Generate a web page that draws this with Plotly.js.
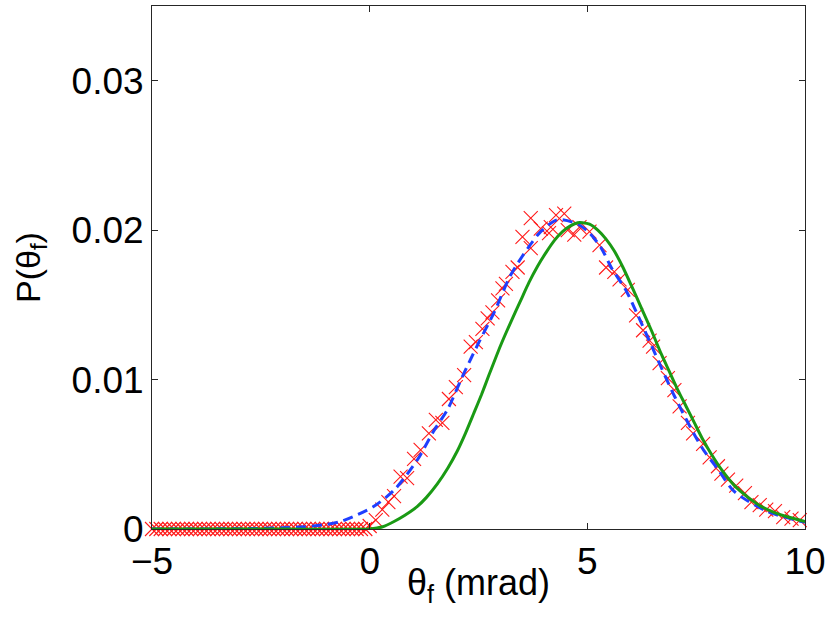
<!DOCTYPE html>
<html>
<head>
<meta charset="utf-8">
<script src="https://cdn.plot.ly/plotly-3.0.1.min.js"></script>
<style>
  body { margin: 0; background: #fff; }
  #plot { width: 830px; height: 623px; }
</style>
</head>
<body>
<div id="plot"></div>
<script>
// measured points (red crosses)
var simX = [-5, -4.9, -4.8, -4.7, -4.6, -4.5, -4.4, -4.3, -4.2, -4.1,
  -4, -3.9, -3.8, -3.7, -3.6, -3.5, -3.4, -3.3, -3.2, -3.1,
  -3, -2.9, -2.8, -2.7, -2.6, -2.5, -2.4, -2.3, -2.2, -2.1,
  -2, -1.9, -1.8, -1.7, -1.6, -1.5, -1.4, -1.3, -1.2, -1.1,
  -1, -0.9, -0.8, -0.7, -0.6, -0.5, -0.4, -0.3, -0.2, -0.1,
  0, 0.14, 0.29, 0.43, 0.56, 0.71, 0.86, 1.02, 1.17, 1.36,
  1.52, 1.67, 1.82, 1.98, 2.17, 2.32, 2.44, 2.59, 2.71, 2.82,
  2.95, 3.05, 3.13, 3.28, 3.40, 3.51, 3.70, 3.70, 3.93, 4.12,
  4.16, 4.28, 4.47, 4.55, 4.70, 4.82, 5.05, 5.28, 5.43, 5.62,
  5.74, 5.93, 6.12, 6.28, 6.43, 6.51, 6.66, 6.85, 7.00, 7.12,
  7.31, 7.43, 7.66, 7.81, 8.00, 8.08, 8.23, 8.42, 8.62, 8.77,
  8.96, 9.11, 9.31, 9.50, 9.69, 9.88, 10.04];
var simY = [0, 0, 0, 0, 0, 0, 0, 0, 0, 0,
  0, 0, 0, 0, 0, 0, 0, 0, 0, 0,
  0, 0, 0, 0, 0, 0, 0, 0, 0, 0,
  0, 0, 0, 0, 0, 0, 0, 0, 0, 0,
  0, 0, 0, 0, 0, 0, 0, 0, 0, 0,
  0.0002, 0.0006, 0.0013, 0.0018, 0.0022, 0.0035, 0.0034, 0.0047, 0.0053, 0.0064,
  0.0073, 0.0071, 0.0087, 0.0095, 0.0103, 0.0122, 0.0125, 0.0134, 0.0141, 0.0145,
  0.0153, 0.0161, 0.0164, 0.0172, 0.0175, 0.01955, 0.0188, 0.0208, 0.0201, 0.0198,
  0.0202, 0.0210, 0.0211, 0.0200, 0.0197, 0.0202, 0.0199, 0.0190, 0.0175, 0.0172,
  0.0167, 0.0160, 0.0143, 0.0133, 0.0126, 0.0122, 0.0111, 0.0101, 0.0093, 0.0082,
  0.0071, 0.0064, 0.0057, 0.0048, 0.0042, 0.0037, 0.0033, 0.0029, 0.0024, 0.0018,
  0.0016, 0.0013, 0.0012, 0.0008, 0.0007, 0.0006, 0.0005];

// blue dashed model
var fitX = [-5, -3, -2, -1.5, -1, -0.67, -0.29, 0.09, 0.56, 1.09,
  1.48, 1.79, 2.13, 2.51, 2.86, 3.24, 3.66, 3.93, 4.32, 4.78,
  5.05, 5.32, 5.55, 5.90, 6.16, 6.5, 7.0, 7.62, 8.0, 8.38,
  9.15, 9.92, 10];
var fitY = [0, 0.00002, 0.00008, 0.00015, 0.0003, 0.0005, 0.00094, 0.0015, 0.0026, 0.0046,
  0.0066, 0.0080, 0.0102, 0.0125, 0.0145, 0.0170, 0.0189, 0.0199, 0.0207, 0.0204,
  0.0198, 0.0188, 0.0175, 0.0159, 0.0143, 0.0121, 0.0089, 0.0055, 0.0040, 0.0025,
  0.00116, 0.0005, 0.00045];

// green solid model
var thX = [-5, -2, 0, 0.3, 0.56, 0.8, 1.09, 1.3, 1.55, 1.8,
  2.01, 2.2, 2.40, 2.57, 2.74, 3.01, 3.25, 3.47, 3.66, 3.86,
  4.05, 4.24, 4.43, 4.62, 4.78, 4.89, 5.05, 5.24, 5.43, 5.62,
  5.82, 6.01, 6.24, 6.47, 6.70, 6.89, 7.08, 7.27, 7.46, 7.65,
  7.85, 8.1, 8.38, 8.7, 9.00, 9.3, 9.61, 10];
var thY = [0, 0, 0, 0.00015, 0.0005, 0.0009, 0.0015, 0.0021, 0.0030, 0.0041,
  0.0052, 0.0064, 0.0078, 0.0090, 0.0103, 0.0123, 0.0139, 0.0153, 0.0165, 0.0176,
  0.0185, 0.0193, 0.0199, 0.0203, 0.0205, 0.0205, 0.0204, 0.0200, 0.0194, 0.0186,
  0.0175, 0.0163, 0.0148, 0.0133, 0.0117, 0.0105, 0.0093, 0.0082, 0.0071, 0.0060,
  0.0050, 0.0039, 0.0029, 0.0021, 0.0015, 0.0011, 0.0008, 0.0005];

var axisCol = '#262626';

var traces = [
  {
    x: simX, y: simY, type: 'scatter', mode: 'markers', cliponaxis: false,
    marker: { symbol: 'x-thin', size: 14, color: '#ff1a1a',
      line: { color: '#ff1a1a', width: 1.1 } },
    showlegend: false
  },
  {
    x: fitX, y: fitY, type: 'scatter', mode: 'lines',
    line: { color: '#1f3fff', width: 3, dash: '10px,6px', shape: 'spline', smoothing: 0.8 },
    showlegend: false
  },
  {
    x: thX, y: thY, type: 'scatter', mode: 'lines',
    line: { color: '#1a9a14', width: 3, shape: 'spline', smoothing: 0.6 },
    showlegend: false
  }
];

var layout = {
  width: 830, height: 623,
  margin: { l: 152, r: 25, t: 6, b: 94 },
  paper_bgcolor: '#fff', plot_bgcolor: '#fff',
  font: { family: 'Liberation Sans, Arial, sans-serif', size: 37, color: '#000' },
  xaxis: {
    range: [-5, 10], tickvals: [-5, 0, 5, 10],
    showgrid: false, zeroline: false,
    showline: true, mirror: 'ticks', linecolor: axisCol, linewidth: 1,
    ticks: 'inside', ticklen: 6, tickcolor: axisCol
  },
  yaxis: {
    range: [0, 0.035], tickvals: [0, 0.01, 0.02, 0.03],
    ticktext: ['0', '0.01', '0.02', '0.03'],
    showgrid: false, zeroline: false,
    showline: true, mirror: 'ticks', linecolor: axisCol, linewidth: 1,
    ticks: 'inside', ticklen: 6, tickcolor: axisCol,
    title: { text: 'P(θ<sub>f</sub>)', standoff: 20, font: { size: 34 } }
  },
  annotations: [{
    text: 'θ<sub>f</sub> (mrad)', xref: 'paper', yref: 'paper',
    x: 0.5, y: -0.107, xanchor: 'center', yanchor: 'middle',
    showarrow: false, font: { size: 36 }
  }]
};

Plotly.newPlot('plot', traces, layout, { displayModeBar: false, staticPlot: true });
</script>
</body>
</html>
